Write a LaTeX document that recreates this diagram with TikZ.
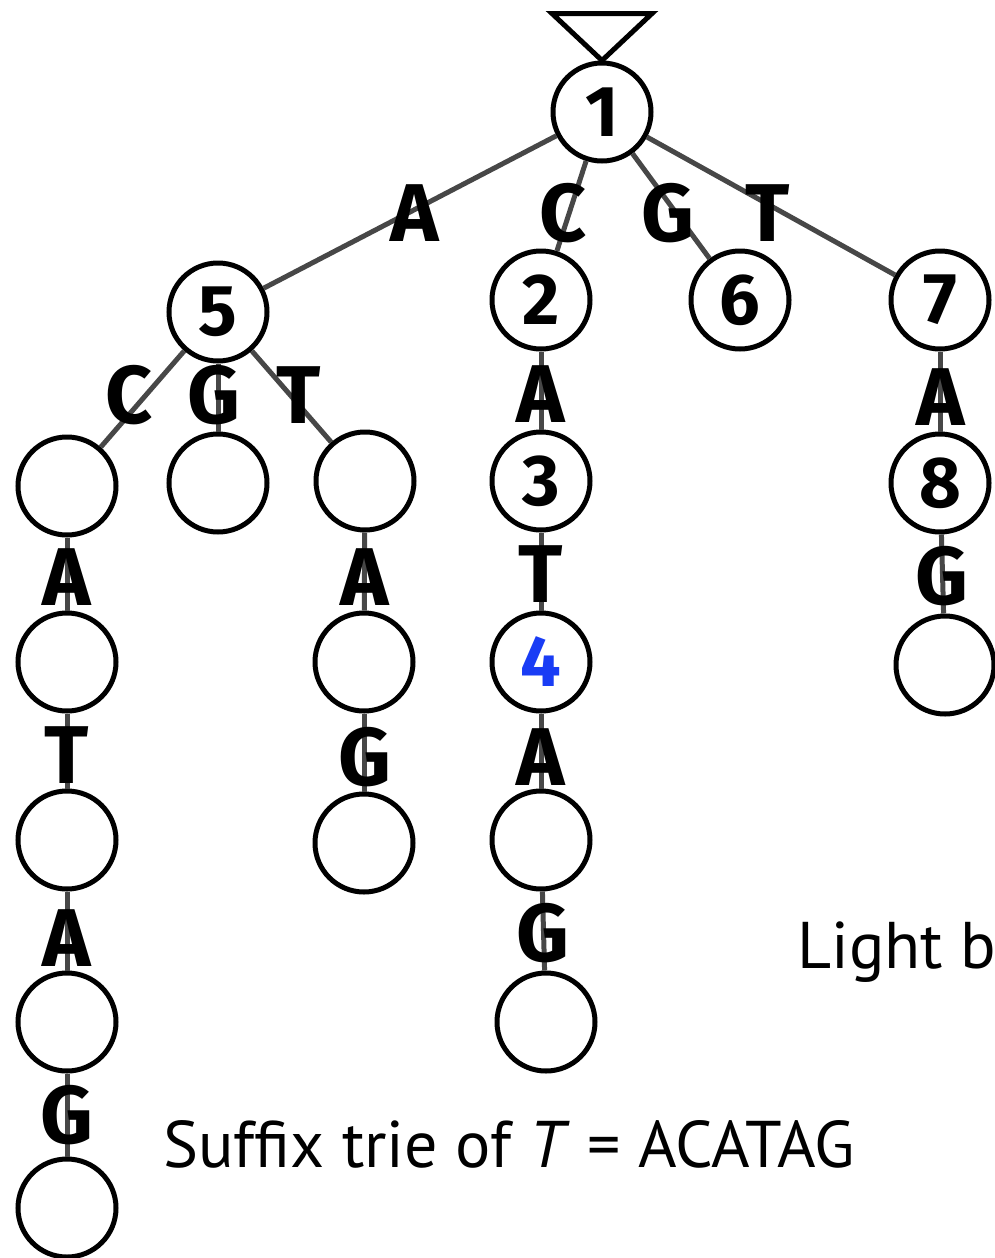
\documentclass[tikz,border=0pt]{standalone}
\usepackage{fontspec}
\setmainfont{PT Sans}
\newfontfamily\trielabelfont{Fira Sans}
\begin{document}
\begin{tikzpicture}[x=1pt,y=-1pt,
  trienode/.style={circle,draw=black,line width=5pt,fill=white,minimum size=98pt,
    inner sep=0pt,font=\trielabelfont\fontsize{72}{72}\selectfont\bfseries},
  edgelbl/.style={font=\trielabelfont\fontsize{82}{82}\selectfont\bfseries,inner sep=0pt},
  trieedge/.style={draw=black!72,line width=5pt},
  caption/.style={font=\fontsize{66}{66}\selectfont,inner sep=0pt}]
\useasboundingbox (0,0) rectangle (995,1258);
\clip (0,0) rectangle (995,1258);

% nodes of the trie
\node[trienode] (n1) at (602,112) {1};
\node[trienode] (n5) at (218,312) {5};
\node[trienode] (n2) at (541,300) {2};
\node[trienode] (n6) at (740,300) {6};
\node[trienode] (n7) at (940,300) {7};
\node[trienode] (c1) at (67,486) {};
\node[trienode] (g1) at (218,483) {};
\node[trienode] (t1) at (365,481) {};
\node[trienode] (n3) at (541,481) {3};
\node[trienode] (n8) at (940,483) {8};
\node[trienode] (c2) at (67,662) {};
\node[trienode] (t2) at (364,662) {};
\node[trienode,text={rgb,255:red,25;green,60;blue,245}] (n4) at (541,662) {4};
\node[trienode] (r3) at (945,665) {};
\node[trienode] (c3) at (67,840) {};
\node[trienode] (t3) at (364,843) {};
\node[trienode] (a3) at (541,840) {};
\node[trienode] (c4) at (67,1022) {};
\node[trienode] (a4) at (546,1022) {};
\node[trienode] (c5) at (67,1208) {};

% root marker
\draw[line width=5pt,line join=miter] (n1.north) -- ++(-50,-47) -- ++(100,0) -- cycle;

% edges
\foreach \a/\b in {n1/n5,n1/n2,n1/n6,n1/n7,n5/c1,n5/g1,n5/t1,n2/n3,n7/n8,
  c1/c2,t1/t2,n3/n4,n8/r3,c2/c3,t2/t3,n4/a3,c3/c4,a3/a4,c4/c5}
  \draw[trieedge] (\a) -- (\b);

% edge labels
\node[edgelbl] (la1) at (415,213) {A};
\node[edgelbl] (lc1) at (563,213) {C};
\node[edgelbl] (lg1) at (668,213) {G};
\node[edgelbl] (lt1) at (768,213) {T};
\node[edgelbl] (lc2) at (129,395) {C};
\node[edgelbl] (lg2) at (214,395) {G};
\node[edgelbl] (lt2) at (299,395) {T};
\node[edgelbl] (la2) at (541,394) {A};
\node[edgelbl] (la7) at (941,397) {A};
\node[edgelbl] (la3) at (67,577) {A};
\node[edgelbl] (la5) at (365,577) {A};
\node[edgelbl] (lt3) at (541,574) {T};
\node[edgelbl] (lg8) at (942,576) {G};
\node[edgelbl] (lt4) at (67,755) {T};
\node[edgelbl] (lg5) at (365,757) {G};
\node[edgelbl] (la4) at (541,757) {A};
\node[edgelbl] (la6) at (67,938) {A};
\node[edgelbl] (lg6) at (543,933) {G};
\node[edgelbl] (lg7) at (67,1115) {G};

% captions
\node[caption,anchor=base west] (cap) at (163,1167) {Suffix trie of \textit{T} = ACATAG};
\node[caption,anchor=base west] (side) at (797,968) {Light bl};
\end{tikzpicture}
\end{document}
